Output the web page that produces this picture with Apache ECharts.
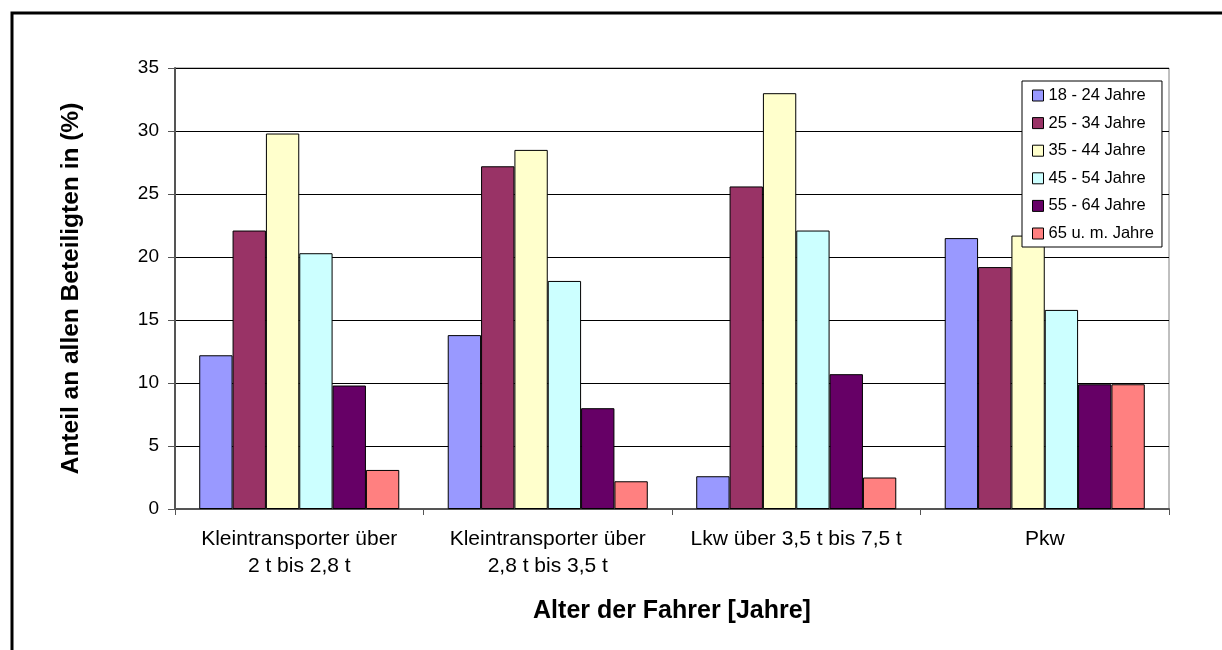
<!DOCTYPE html>
<html>
<head>
<meta charset="utf-8">
<script src="https://cdn.jsdelivr.net/npm/echarts@6/dist/echarts.min.js"></script>
<style>
  html, body { margin: 0; padding: 0; background: #fff; }
  #chart { width: 1222px; height: 650px; }
</style>
</head>
<body>
<div id="chart"></div>
<script>
// Kategorien (x-Achse)
var categories = ['Kleintransporter über\n2 t bis 2,8 t', 'Kleintransporter über\n2,8 t bis 3,5 t', 'Lkw über 3,5 t bis 7,5 t', 'Pkw'];
// Altersgruppen
var groups = ['18 - 24 Jahre', '25 - 34 Jahre', '35 - 44 Jahre', '45 - 54 Jahre', '55 - 64 Jahre', '65 u. m. Jahre'];
var colors = ['#9999FF', '#993366', '#FFFFCC', '#CCFFFF', '#660066', '#FF8080'];
// Werte je Altersgruppe (Anteil in %)
var age18_24 = [12.2, 13.8, 2.6, 21.5];
var age25_34 = [22.1, 27.2, 25.6, 19.2];
var age35_44 = [29.8, 28.5, 33.0, 21.7];
var age45_54 = [20.3, 18.1, 22.1, 15.8];
var age55_64 = [9.8, 8.0, 10.7, 9.9];
var age65 = [3.1, 2.2, 2.5, 9.9];
var yTicks = { min: 0, max: 35, interval: 5 };

(function () {
    var myChart = echarts.init(document.getElementById('chart'));
    var font = 'Liberation Sans, Arial, sans-serif';
    var values = [age18_24, age25_34, age35_44, age45_54, age55_64, age65];

    var series = groups.map(function (g, i) {
        return {
            name: g,
            type: 'bar',
            barGap: 0,
            barCategoryGap: '19.5%',
            itemStyle: {
                color: colors[i],
                borderColor: '#000',
                borderWidth: 1
            },
            data: values[i]
        };
    });

    var option = {
        animation: false,
        backgroundColor: '#fff',
        color: colors,
        textStyle: { fontFamily: font, color: '#000' },
        // Rahmen um das ganze Diagramm
        graphic: [{
            type: 'rect',
            z: 100,
            silent: true,
            shape: { x: 12, y: 13, width: 1260, height: 700 },
            style: { fill: 'none', stroke: '#000', lineWidth: 3 }
        }],
        grid: {
            left: 175,
            right: 53,
            top: 68,
            bottom: 141,
            show: true,
            borderColor: '#808080',
            borderWidth: 1
        },
        legend: {
            orient: 'vertical',
            left: 1022,
            top: 81,
            padding: [6, 8, 5, 10],
            itemGap: 10.6,
            itemWidth: 11,
            itemHeight: 11,
            itemTextGap: 4,
            icon: 'rect',
            borderColor: '#000',
            borderWidth: 1,
            backgroundColor: '#fff',
            itemStyle: { borderColor: '#000', borderWidth: 1 },
            textStyle: { fontFamily: font, fontSize: 16.5, color: '#000', lineHeight: 17 },
            data: groups
        },
        xAxis: {
            type: 'category',
            data: categories,
            name: 'Alter der Fahrer [Jahre]',
            nameLocation: 'middle',
            nameGap: 90,
            nameTextStyle: { fontFamily: font, fontSize: 25, fontWeight: 'bold', color: '#000' },
            axisLine: { lineStyle: { color: '#555', width: 2 } },
            axisTick: { show: true, length: 6, lineStyle: { color: '#555', width: 1 } },
            axisLabel: {
                fontFamily: font,
                fontSize: 21,
                lineHeight: 27,
                color: '#000',
                margin: 17,
                interval: 0
            }
        },
        yAxis: {
            type: 'value',
            min: yTicks.min,
            max: yTicks.max,
            interval: yTicks.interval,
            name: 'Anteil an allen Beteiligten in (%)',
            nameLocation: 'middle',
            nameGap: 91,
            nameRotate: 90,
            nameTextStyle: { fontFamily: font, fontSize: 24.5, fontWeight: 'bold', color: '#000' },
            axisLine: { show: true, lineStyle: { color: '#555', width: 2 } },
            axisTick: { show: true, length: 7, lineStyle: { color: '#555', width: 1 } },
            axisLabel: { fontFamily: font, fontSize: 19, color: '#000', margin: 16 },
            splitLine: { show: true, lineStyle: { color: '#000', width: 1 } }
        },
        series: series
    };

    myChart.setOption(option);
})();
</script>
</body>
</html>
